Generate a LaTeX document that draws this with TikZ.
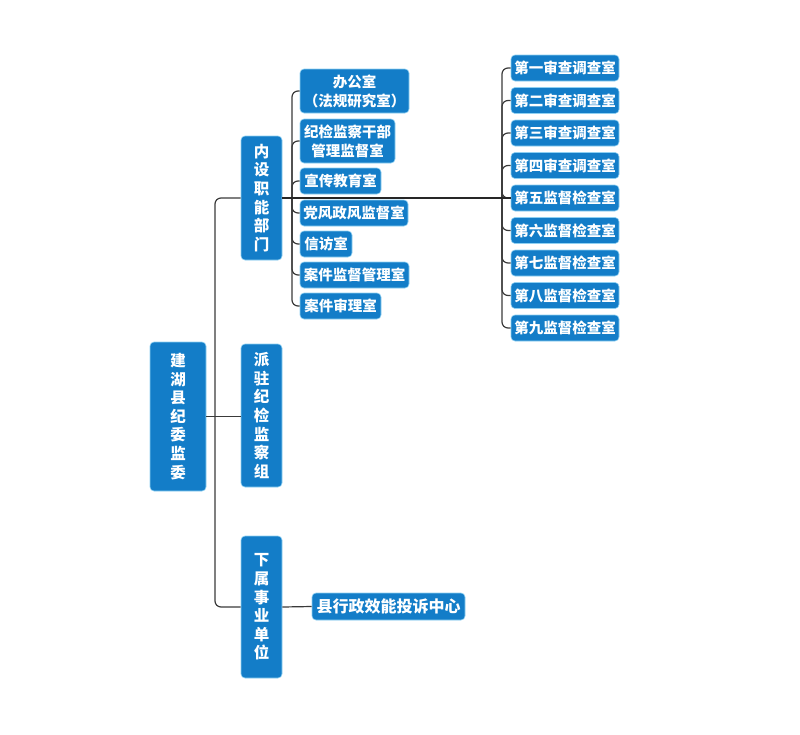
\documentclass[tikz,border=0pt]{standalone}
\usepackage{fontspec}
\setmainfont{Noto Sans CJK SC}
\usepackage{tikz}
\usepackage{xcolor}
\definecolor{boxblue}{HTML}{137DC8}
\definecolor{boxrim}{HTML}{8FD0F2}
\definecolor{linegray}{HTML}{3A3A3A}
\tikzstyle{orgbox} = [
    fill=boxblue,
    draw=boxrim,
    line width=0.6pt,
    rounded corners=4pt,
    text=white,
    inner sep=0pt,
    minimum height=26pt,
    font=\fontsize{14.5pt}{16pt}\selectfont\bfseries
    ]
\tikzstyle{vbox} = [
    orgbox,
    minimum width=41pt,
    align=center,
    font=\fontsize{15.5pt}{18.6pt}\selectfont\bfseries
    ]
\tikzstyle{twoline} = [
    orgbox,
    align=center,
    minimum height=44pt,
    font=\fontsize{14.5pt}{19pt}\selectfont\bfseries
    ]
\tikzstyle{branch} = [draw=linegray, line width=1.2pt, rounded corners=6pt]
\tikzstyle{mainline} = [draw=black!85, line width=1.6pt]

\begin{document}
\begin{tikzpicture}[x=1pt,y=-1pt]
\path[use as bounding box] (0,0) rectangle (800,734);

% joints
\coordinate (jt) at (215,198);
\coordinate (jb) at (215,607);
\coordinate (mj) at (292,198);
\coordinate (rj) at (502,198);

\node[vbox, minimum width=56pt, minimum height=149pt] (root) at (178,416.5) {建\\湖\\县\\纪\\委\\监\\委};
\node[vbox, minimum height=124pt] (inner) at (261.5,198) {内\\设\\职\\能\\部\\门};
\node[vbox, minimum height=143pt] (station) at (261.5,415.5) {派\\驻\\纪\\检\\监\\察\\组};
\node[vbox, minimum height=142pt] (affil) at (261.5,607) {下\\属\\事\\业\\单\\位};

\node[twoline, minimum width=109pt] (office) at (354.5,91) {办公室\\（法规研究室）};
\node[twoline, minimum width=95pt] (cadre) at (347.5,141) {纪检监察干部\\管理监督室};
\node[orgbox, minimum width=81pt] (publicity) at (340.5,181) {宣传教育室};
\node[orgbox, minimum width=108pt] (conduct) at (354,213) {党风政风监督室};
\node[orgbox, minimum width=52pt] (petition) at (326,244) {信访室};
\node[orgbox, minimum width=109pt] (casemgmt) at (354.5,275) {案件监督管理室};
\node[orgbox, minimum width=81pt] (casereview) at (340.5,306) {案件审理室};

\foreach \t [count=\i] in {第一审查调查室,第二审查调查室,第三审查调查室,
    第四审查调查室,第五监督检查室,第六监督检查室,第七监督检查室,
    第八监督检查室,第九监督检查室}
    \node[orgbox, minimum width=108pt] (s\i) at (565,35.5+32.5*\i) {\t};

\node[orgbox, minimum width=153pt, minimum height=27pt,
    font=\fontsize{16pt}{17pt}\selectfont\bfseries] (center) at (388.5,606.5) {县行政效能投诉中心};

% connectors
\draw[branch] (inner.west) -- (jt) -- (jb) -- (affil.west);
\draw[branch] (root.east) -- (station.west |- root.east);
\foreach \c in {office,cadre,publicity,conduct,petition,casemgmt,casereview}
    \draw[branch] (mj) |- (\c.west);
\foreach \i in {1,...,9}
    \draw[branch] (rj) |- (s\i.west);
\draw[mainline] (inner.east) -- (rj) -- (s5.west);
\draw[branch] (affil.east) -- (center.west);
\end{tikzpicture}
\end{document}
